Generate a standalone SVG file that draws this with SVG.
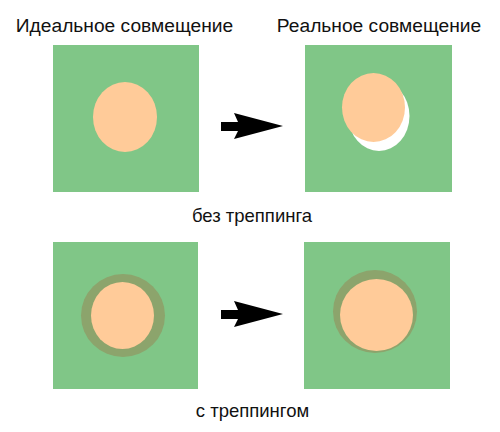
<svg xmlns="http://www.w3.org/2000/svg" width="500" height="432" viewBox="0 0 500 432">
<style>
.bg{fill:#ffffff}
.pad{fill:#80c687}
.dot{fill:#ffcb99}
.trap{fill:#8ca46c}
.gap{fill:#ffffff}
.lbl{font-family:"Liberation Sans",Arial,sans-serif;fill:#111111;text-anchor:middle}
.title{font-size:19.2px}
.cap{font-size:18.5px}
.arrow{fill:#000000}
</style>
<defs>
<path id="arr" d="M221,122 L238,122 L234,113 L283,126 L234,139 L238,131 L221,131 Z"/>
</defs>
<rect class="bg" x="0" y="0" width="500" height="432"/>
<g id="title-ideal"><text class="lbl title" x="124.5" y="32">Идеальное совмещение</text></g>
<g id="title-real"><text class="lbl title" x="379" y="32">Реальное совмещение</text></g>
<g id="ideal-no-trap">
<rect class="pad" x="53" y="45" width="146" height="147"/>
<ellipse class="dot" cx="125" cy="117" rx="32" ry="35"/>
</g>
<g id="real-no-trap">
<rect class="pad" x="305" y="45" width="147" height="147"/>
<ellipse class="gap" cx="379" cy="116" rx="30.5" ry="35"/>
<ellipse class="dot" cx="373.5" cy="107.5" rx="31.5" ry="34.5"/>
</g>
<g id="caption-no-trap"><text class="lbl cap" x="252" y="222">без треппинга</text></g>
<g id="ideal-trap">
<rect class="pad" x="53" y="242" width="145" height="147"/>
<ellipse class="trap" cx="123" cy="315.5" rx="42" ry="41.5"/>
<ellipse class="dot" cx="122.5" cy="315.5" rx="31.5" ry="33.5"/>
</g>
<g id="real-trap">
<rect class="pad" x="304" y="242" width="146" height="147"/>
<ellipse class="trap" cx="375" cy="311.5" rx="42" ry="41.5"/>
<ellipse class="dot" cx="376.5" cy="315" rx="36.5" ry="36"/>
</g>
<g id="caption-trap"><text class="lbl cap" x="252.5" y="417">с треппингом</text></g>
<g id="connectors">
<use href="#arr" class="arrow"/>
<use href="#arr" class="arrow" transform="translate(0,188)"/>
</g>
</svg>
